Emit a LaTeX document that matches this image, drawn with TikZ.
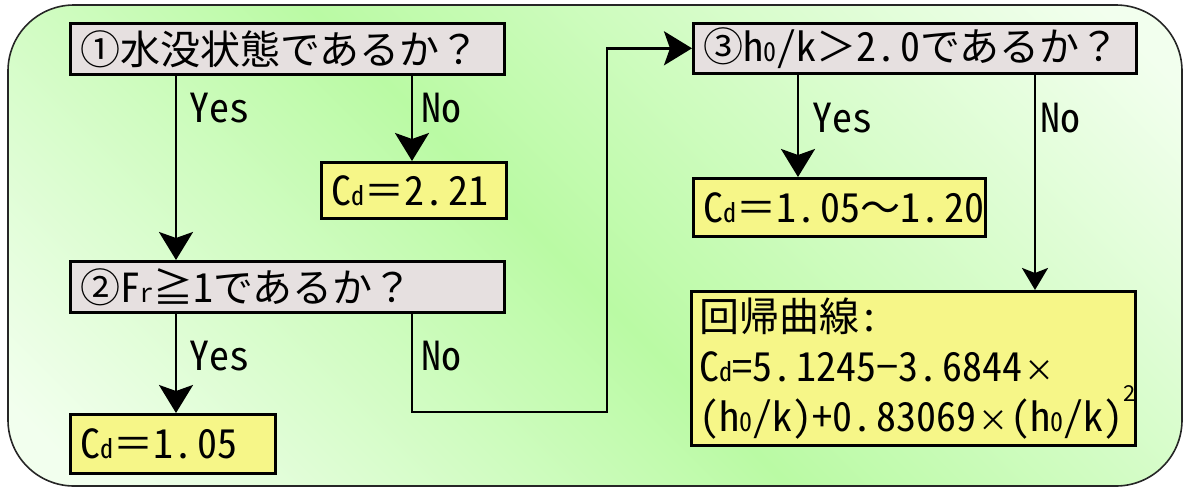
\documentclass[tikz,border=0pt]{standalone}
\usepackage{fontspec}
\setmainfont{Noto Sans CJK JP}
\newfontfamily\hw[RawFeature=+hwid]{Noto Sans CJK JP}
\usetikzlibrary{arrows.meta}
\definecolor{bgG}{RGB}{186,250,164}
\definecolor{bgL}{RGB}{242,255,238}
\definecolor{qgray}{RGB}{230,224,224}
\definecolor{ansY}{RGB}{246,246,136}
\pgfdeclarehorizontalshading{bgsh}{100bp}{color(0bp)=(bgL); color(18bp)=(bgL); color(48bp)=(bgG); color(82bp)=(bgL); color(100bp)=(bgL)}
\newcommand\sbs[1]{{\fontsize{13}{13}\selectfont #1}}
\newcommand\ssup[1]{\kern0.3pt\raisebox{15pt}{\fontsize{11}{11}\selectfont #1}}
\newcommand\pd{.\kern2pt}
\newcommand\tms{{\fontsize{15}{15}\selectfont\kern1pt ×\kern1pt}}
\begin{document}
\begin{tikzpicture}[x=0.5pt,y=-0.5pt,
  qbox/.style={draw, line width=1.3pt, fill=qgray, anchor=north west, inner xsep=5pt, inner ysep=0pt, align=left, font=\fontsize{20}{24}\selectfont},
  abox/.style={qbox, fill=ansY},
  lbl/.style={anchor=west, inner sep=0pt, font=\hw\fontsize{20}{24}\selectfont},
  arr/.style={line width=1.3pt, -{Stealth[length=14pt,width=17pt,inset=3pt]}},
  arrs/.style={line width=1.3pt, -{Stealth[length=11pt,width=13pt,inset=2.5pt]}}]
\useasboundingbox (0,0) rectangle (1184,488);
\path[shading=bgsh, shading angle=45, draw=black!85, line width=0.8pt, rounded corners=33pt] (8,5) rectangle (1182,486);

\node[qbox, text width=207pt, minimum height=25.5pt] (box1) at (69,22) {①水没状態であるか？};
\node[abox, text width=82.5pt, minimum height=28pt] (cd221) at (320,161) {{\hw C\sbs{d}}＝{\hw 2\pd 21}};
\node[qbox, text width=207pt, minimum height=25.5pt] (box2) at (69,260) {②{\hw F\sbs{r}}≧{\hw 1}であるか？};
\node[abox, text width=92.5pt, minimum height=29.5pt] (cd105) at (69,413) {{\hw C\sbs{d}}＝{\hw 1\pd 05}};
\node[qbox, text width=211.5pt, minimum height=25pt] (box3) at (692,22) {③{\hw h\sbs{0}/k}＞{\hw 2\pd 0}であるか？};
\node[abox, text width=136pt, minimum height=29pt] (cd120) at (692,177) {{\hw C\sbs{d}}＝{\hw 1\pd 05}～{\hw 1\pd 20}};
\node[abox, inner xsep=4pt, text width=214pt, minimum height=77pt, font=\fontsize{20}{25}\selectfont] (box4) at (690,290) {回帰曲線{\hw :}\\{\hw C\sbs{d}=5\pd 1245}−{\hw 3\pd 6844}\tms\\{\hw (h\sbs{0}/k)+0\pd 83069}\tms{\hw (h\sbs{0}/k)}\ssup{2}};

\coordinate (xa) at (176,0);
\coordinate (xb) at (412,0);
\coordinate (xc) at (798,0);
\coordinate (xd) at (1035,0);
\coordinate (c1) at (412,412);
\coordinate (c2) at (607,412);

\draw[arr] (box1.south -| xa) -- (box2.north -| xa);
\draw[arr] (box1.south -| xb) -- (cd221.north -| xb);
\draw[arr] (box2.south -| xa) -- (cd105.north -| xa);
\draw[arr] (box2.south -| xb) -- (c1) -- (c2) -- (c2 |- box3.west) -- (box3.west);
\draw[arr] (box3.south -| xc) -- (cd120.north -| xc);
\draw[arrs] (box3.south -| xd) -- (box4.north -| xd);

\node[lbl] (y1) at (189,108) {Yes};
\node[lbl] (n1) at (421,108) {No};
\node[lbl] (y2) at (189,356) {Yes};
\node[lbl] (n2) at (421,356) {No};
\node[lbl] (y3) at (812,118) {Yes};
\node[lbl] (n3) at (1040,118) {No};
\end{tikzpicture}
\end{document}
